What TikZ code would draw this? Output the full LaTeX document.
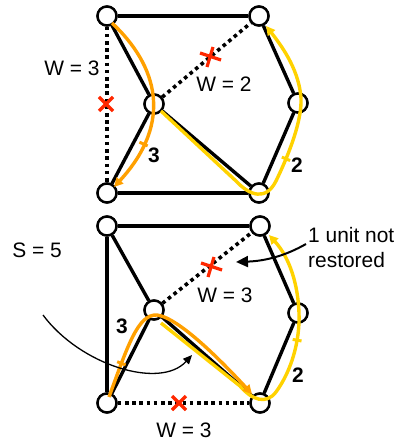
\documentclass[tikz,border=0pt]{standalone}
\usepackage{fontspec}
\setmainfont{Liberation Sans}
\usetikzlibrary{arrows.meta,decorations.markings}
\definecolor{pathorange}{RGB}{255,160,0}
\definecolor{pathyellow}{RGB}{255,210,0}
\definecolor{cutred}{RGB}{255,40,0}
\begin{document}
\begin{tikzpicture}[x=1bp,y=-1bp,
  vtx/.style={circle,draw,line width=2.4bp,fill=white,minimum size=19bp,inner sep=0pt},
  edge/.style={line width=3.4bp},
  cutedge/.style={line width=3.6bp,dash pattern=on 3.6bp off 3.6bp},
  lbl/.style={font=\fontsize{21}{25}\selectfont,inner sep=0pt},
  num/.style={font=\bfseries\fontsize{21}{25}\selectfont,inner sep=0pt},
  redx/.style={cutred,line width=3.2bp},
  opath/.style={pathorange,line width=3.4bp,-{Triangle[length=9bp,width=9bp]}},
  ypath/.style={pathyellow,line width=3.4bp,-{Triangle[length=9bp,width=9bp]}},
  tick/.style={postaction={decorate,decoration={markings,mark=at position #1 with {\draw[line width=3bp,-] (0,-4.5) -- (0,4.5);}}}},
  note/.style={line width=1.3bp,-{Triangle[length=9bp,width=8bp]}},
  bignote/.style={line width=2bp,-{Triangle[length=12bp,width=11bp]}}
]
\useasboundingbox (0,0) rectangle (398,442);

% ---------- top graph ----------
\node[vtx] (a1) at (107,16) {};
\node[vtx] (b1) at (259,16) {};
\node[vtx] (c1) at (154,104) {};
\node[vtx] (d1) at (298,103) {};
\node[vtx] (e1) at (107,193) {};
\node[vtx] (f1) at (259,193) {};

\draw[edge] (a1) -- (b1);
\draw[edge] (a1) -- (c1);
\draw[edge] (c1) -- (e1);
\draw[edge] (e1) -- (f1);
\draw[edge] (c1) -- (f1);
\draw[edge] (b1) -- (d1);
\draw[edge] (d1) -- (f1);
\draw[cutedge] (a1) -- (e1);
\draw[cutedge] (c1) -- (b1);

\node[vtx] at (a1) {};
\node[vtx] at (b1) {};
\node[vtx] at (c1) {};
\node[vtx] at (d1) {};
\node[vtx] at (e1) {};
\node[vtx] at (f1) {};

\draw[redx] (99,97) -- (113,111) (113,97) -- (99,111);
\draw[redx] (200,53) -- (221,60) (213,47) -- (207,67);

\node[lbl] (w1) at (72,68) {W = 3};
\node[lbl] (w2) at (224,84) {W = 2};

\coordinate (o1s) at (112,23);
\coordinate (o1e) at (114,187);
\draw[opath,tick=0.72] (o1s) .. controls (157,65) and (174,122) .. (o1e);
\node[num] (n1) at (154,155) {3};

\coordinate (y1s) at (161,111);
\coordinate (y1e) at (266,26);
\draw[ypath,tick=0.55] (y1s) -- (236,181) .. controls (250,196) and (266,201) .. (276,181)
   .. controls (290,152) and (302,120) .. (301,98) .. controls (299,72) and (285,50) .. (y1e);
\node[num] (n2) at (297,165) {2};

% ---------- bottom graph ----------
\node[vtx] (a2) at (107,226) {};
\node[vtx] (b2) at (260,226) {};
\node[vtx] (c2) at (154,310) {};
\node[vtx] (d2) at (298,313) {};
\node[vtx] (e2) at (107,403) {};
\node[vtx] (f2) at (260,403) {};

\draw[edge] (a2) -- (b2);
\draw[edge] (a2) -- (e2);
\draw[edge] (a2) -- (c2);
\draw[edge] (c2) -- (e2);
\draw[edge] (c2) -- (f2);
\draw[edge] (b2) -- (d2);
\draw[edge] (d2) -- (f2);
\draw[cutedge] (c2) -- (b2);
\draw[cutedge] (e2) -- (f2);

\node[vtx] at (a2) {};
\node[vtx] at (b2) {};
\node[vtx] at (c2) {};
\node[vtx] at (d2) {};
\node[vtx] at (e2) {};
\node[vtx] at (f2) {};

\draw[redx] (201,263) -- (222,270) (214,257) -- (208,277);
\draw[redx] (172,396) -- (186,410) (186,396) -- (172,410);

\node[lbl] (s5) at (37,250) {S = 5};
\node[lbl] (w3) at (225,295) {W = 3};
\node[lbl] (w4) at (184,430) {W = 3};
\node[lbl,align=left,anchor=north west] (nr) at (308,227) {1 unit not\\restored};

\coordinate (y2s) at (161,323);
\coordinate (y2e) at (269,235);
\draw[ypath,tick=0.64] (y2s) -- (240,386) .. controls (252,400) and (266,405) .. (276,392)
   .. controls (292,370) and (300,340) .. (299,313) .. controls (298,285) and (290,258) .. (y2e);

\coordinate (o2s) at (109,397);
\coordinate (o2e) at (252,394);
\draw[opath,tick=0.16] (o2s) .. controls (128,345) and (138,314) .. (157,315)
   .. controls (180,318) and (225,365) .. (o2e);
\node[num] (n3) at (122,326) {3};
\node[num] (n4) at (298,375) {2};

\coordinate (cs) at (43,315);
\coordinate (ce) at (192,355);
\draw[note] (cs) .. controls (80,365) and (160,390) .. (ce);

\coordinate (nrs) at (306,244);
\coordinate (nre) at (236,262);
\draw[bignote] (nrs) .. controls (285,256) and (265,261) .. (nre);
\end{tikzpicture}
\end{document}
